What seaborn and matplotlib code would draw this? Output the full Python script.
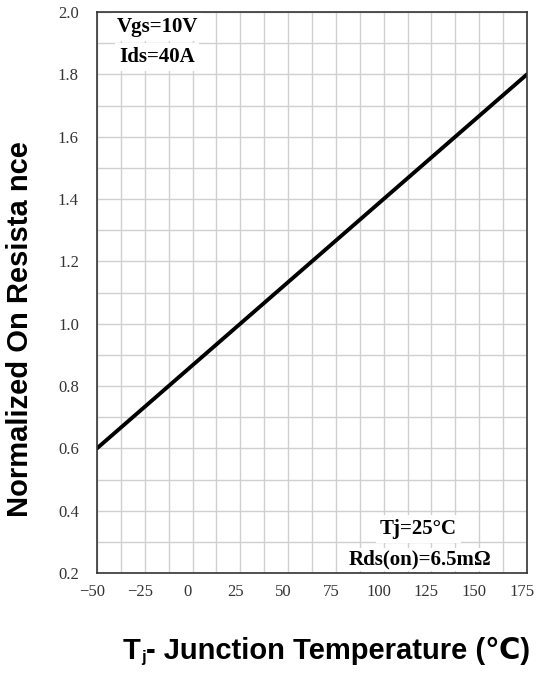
import matplotlib as mtl
mtl.use('Agg')
import matplotlib.pyplot as plt
import matplotlib.transforms as mtransforms
from matplotlib.ticker import MultipleLocator
import seaborn as sns

# curve (normalized Rds(on) vs Tj)
tj = [-50, 25, 175]
r_norm = [0.6, 1.0, 1.8]

x_ticks = [-50, -25, 0, 25, 50, 75, 100, 125, 150, 175]
y_ticks = [0.2, 0.4, 0.6, 0.8, 1.0, 1.2, 1.4, 1.6, 1.8, 2.0]
y_ticklabels = ["%.1f" % v for v in y_ticks]

cond_top = ["Vgs=10V", "Ids=40A"]
cond_bottom = ["Tj=25\u00b0C", "Rds(on)=6.5m\u03a9"]

sns.set_style("whitegrid")
plt.rcParams['font.family'] = ['Liberation Sans', 'DejaVu Sans']
plt.rcParams['text.color'] = 'black'

fig = plt.figure(figsize=(5.37, 6.73), dpi=100)
fig.patch.set_facecolor('white')
ax = fig.add_axes([97 / 537, 100 / 673, 430 / 537, 561 / 673])

sns.lineplot(x=tj, y=r_norm, color='black', linewidth=2.8, ax=ax)

ax.set_xlim(-50, 175)
ax.set_ylim(0.2, 2.0)
ax.set_xticks(x_ticks)
ax.set_yticks(y_ticks)
ax.set_yticklabels(y_ticklabels)
ax.xaxis.set_minor_locator(MultipleLocator(12.5))
ax.yaxis.set_minor_locator(MultipleLocator(0.1))
ax.grid(which='both', color='#d0d0d0', linewidth=1.0)
ax.set_axisbelow(True)
ax.tick_params(axis='both', which='both', length=0)
ax.tick_params(axis='y', pad=13)
ax.tick_params(axis='x', pad=8)
for lab in ax.get_xticklabels() + ax.get_yticklabels():
    lab.set_family('Liberation Serif')
    lab.set_fontsize(12)
    lab.set_color('#333333')
# x labels sit a few pixels left of their gridlines in the original
shift = mtransforms.ScaledTranslation(-5 / 100, 0, fig.dpi_scale_trans)
for lab in ax.get_xticklabels():
    lab.set_transform(lab.get_transform() + shift)
for s in ax.spines.values():
    s.set_color('#333333')
    s.set_linewidth(1.2)
ax.set_xlabel('')
ax.set_ylabel('')

# condition notes
box = dict(facecolor='white', edgecolor='none', pad=3)
note = dict(transform=ax.transAxes, ha='center', va='center',
            family='Liberation Serif', fontweight='bold', fontsize=15)
ax.text(0.14, 0.973, cond_top[0], bbox=box, **note)
ax.text(0.14, 0.92, cond_top[1], bbox=box, **note)
ax.text(0.747, 0.078, cond_bottom[0], bbox=box, **note)
ax.text(0.751, 0.024, cond_bottom[1],
        bbox=dict(facecolor='white', edgecolor='none', pad=1), **note)

# axis titles
fig.text(20 / 537, 1 - 329 / 673, "Normalized On Resista nce", rotation=90,
         ha='center', va='center', fontsize=21, fontweight='bold', color='black')

t1 = fig.text(123 / 537, 1 - 665 / 673, "T", ha='left', va='bottom',
              fontsize=21, fontweight='bold', color='black')
t2 = ax.annotate("j", xy=(1, 0), xycoords=t1, ha='left', va='bottom',
                 fontsize=12, fontweight='bold', color='black',
                 annotation_clip=False)
ax.annotate("- Junction Temperature (\u2103)", xy=(1, 0), xycoords=(t2, t1),
            ha='left', va='bottom', fontsize=21, fontweight='bold', color='black',
            family=['Liberation Sans', 'DejaVu Sans'], annotation_clip=False)

fig.savefig("out.png", dpi=100)
